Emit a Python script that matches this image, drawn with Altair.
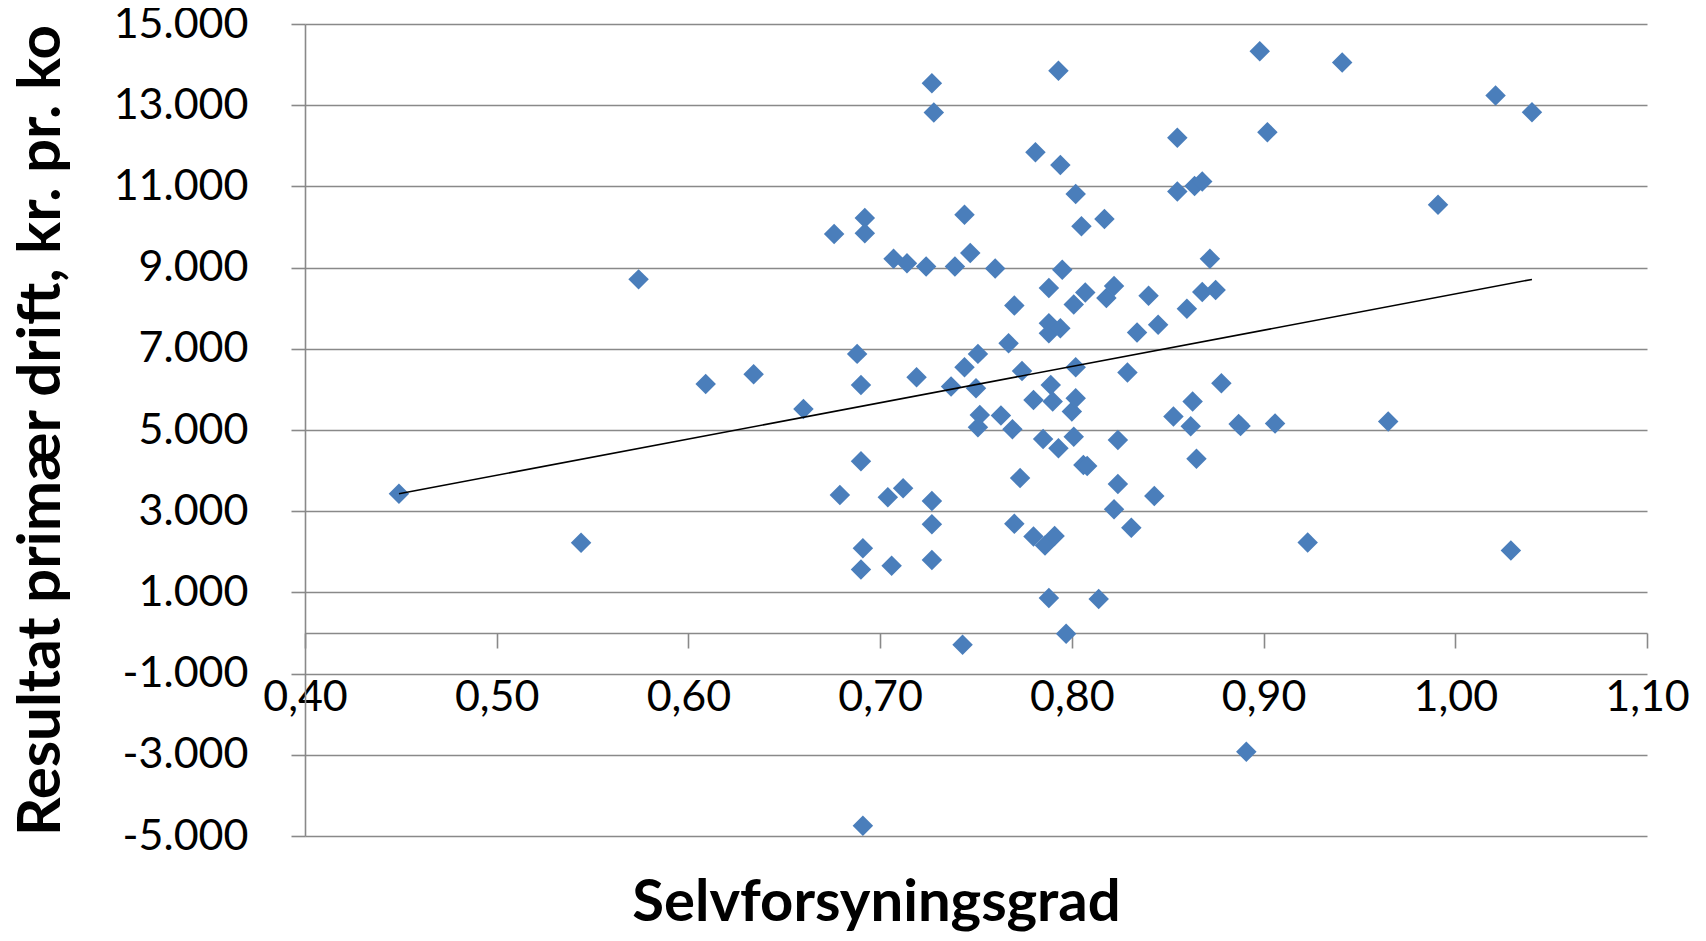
import altair as alt
import pandas as pd

# Selvforsyningsgrad (x) and Resultat primær drift, kr. pr. ko (y)
selvforsyning = [
    0.449, 0.544, 0.574, 0.609, 0.634, 0.660, 0.676, 0.679, 0.688, 0.690,
    0.690, 0.691, 0.690, 0.692, 0.692, 0.691, 0.704, 0.706, 0.707, 0.712,
    0.714, 0.719, 0.724, 0.727, 0.728, 0.727, 0.727, 0.727, 0.737, 0.739,
    0.743, 0.744, 0.744, 0.747, 0.751, 0.750, 0.752, 0.751, 0.760, 0.763,
    0.767, 0.769, 0.770, 0.770, 0.773, 0.774, 0.780, 0.780, 0.781, 0.785,
    0.786, 0.788, 0.788, 0.788, 0.788, 0.789, 0.790, 0.791, 0.793, 0.794,
    0.793, 0.794, 0.795, 0.797, 0.801, 0.800, 0.802, 0.802, 0.801, 0.802,
    0.805, 0.806, 0.808, 0.807, 0.814, 0.817, 0.818, 0.822, 0.822, 0.824,
    0.824, 0.829, 0.831, 0.834, 0.840, 0.843, 0.845, 0.853, 0.855, 0.855,
    0.860, 0.862, 0.863, 0.864, 0.865, 0.868, 0.868, 0.872, 0.875, 0.878,
    0.887, 0.888, 0.891, 0.898, 0.902, 0.906, 0.923, 0.941, 0.965, 0.991,
    1.021, 1.029, 1.040,
]
resultat = [
    3430, 2220, 8710, 6135, 6375, 5520, 9830, 3400, 6875, 6110,
    4230, 2090, 1565, 10220, 9845, -4750, 3345, 1655, 9215, 3565,
    9105, 6300, 9030, 13540, 12820, 3250, 2680, 1800, 6070, 9030,
    -290, 10300, 6545, 9360, 6875, 6030, 5370, 5070, 8975, 5355,
    7135, 5020, 8065, 2690, 3815, 6455, 5740, 2375, 11840, 4780,
    2155, 7630, 8500, 7380, 860, 6110, 5700, 2390, 13850, 7505,
    4550, 11530, 8945, -20, 4835, 5455, 5785, 6545, 8090, 10815,
    10020, 4140, 4115, 8385, 835, 10200, 8250, 8545, 3050, 3670,
    4755, 6415, 2595, 7400, 8305, 3375, 7590, 5330, 12200, 10875,
    7985, 5090, 5700, 11010, 4290, 11120, 8400, 9215, 8450, 6150,
    5150, 5100, -2925, 14330, 12335, 5160, 2230, 14050, 5210, 10550,
    13240, 2035, 12825,
]

x_ticks = [0.4, 0.5, 0.6, 0.7, 0.8, 0.9, 1.0, 1.1]
y_ticks = [-5000, -3000, -1000, 1000, 3000, 5000, 7000, 9000, 11000, 13000, 15000]

df = pd.DataFrame({"x": selvforsyning, "y": resultat})

GRAY = "#898989"
W, H = 1342, 812

xscale = alt.Scale(domain=[0.4, 1.1], nice=False, zero=False)
yscale = alt.Scale(domain=[-5000, 15000], nice=False, zero=False)

x_axis = alt.Axis(
    values=x_ticks,
    offset=-203,
    grid=False,
    domainColor=GRAY, domainWidth=1.6,
    tickColor=GRAY, tickWidth=1.6, tickSize=15,
    labelFont="Lato", labelFontSize=43, labelColor="black",
    labelPadding=28, labelFlush=False, labelOverlap=False,
    labelExpr="replace(format(datum.value, '.2f'), '.', ',')",
    title="Selvforsyningsgrad",
    titleFont="Lato", titleFontSize=58, titleFontWeight="bold", titleColor="black",
    titleX=571, titleY=287, titleAlign="center", titleBaseline="alphabetic",
)

y_axis = alt.Axis(
    values=y_ticks,
    grid=True, gridColor=GRAY, gridWidth=1.6,
    domainColor=GRAY, domainWidth=1.6,
    tickColor=GRAY, tickWidth=1.6, tickSize=14,
    labelFont="Lato", labelFontSize=43, labelColor="black",
    labelPadding=43, labelFlush=False, labelOverlap=False,
    labelExpr="(datum.value < 0 ? '-' : '') + replace(format(abs(datum.value), ','), ',', '.')",
    title="Resultat primær drift, kr. pr. ko",
    titleFont="Lato", titleFontSize=60, titleFontWeight="bold", titleColor="black",
    titleAngle=270, titleX=-246, titleY=406, titleAlign="center", titleBaseline="alphabetic",
)

base = alt.Chart(df)

points = base.mark_point(
    shape="diamond", filled=True, size=420, color="#4A7EBB", opacity=1
).encode(
    x=alt.X("x:Q", scale=xscale, axis=x_axis),
    y=alt.Y("y:Q", scale=yscale, axis=y_axis),
)

trend = base.transform_regression("x", "y").mark_line(
    color="black", strokeWidth=1.6
).encode(
    x=alt.X("x:Q", scale=xscale),
    y=alt.Y("y:Q", scale=yscale),
)

chart = alt.layer(points, trend).properties(
    width=W, height=H,
    autosize=alt.AutoSizeParams(type="none"),
    padding={"left": 297, "top": 16, "right": 45, "bottom": 97},
).configure_view(stroke=None)

chart.save("out.html", embed_options={"renderer": "svg", "actions": False})
